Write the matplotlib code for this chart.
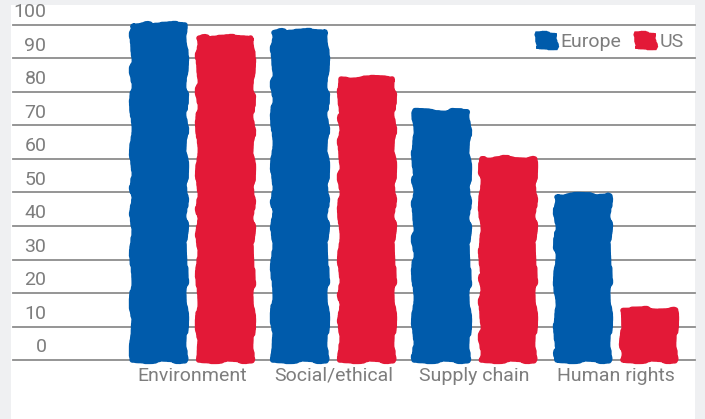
import matplotlib
matplotlib.use("Agg")
import matplotlib.pyplot as plt
from matplotlib.patches import Rectangle
import numpy as np

categories = ["Environment", "Social/ethical", "Supply chain", "Human rights"]
europe = [100, 98, 74, 49]
us = [96, 84, 60, 15]
yticks = [0, 10, 20, 30, 40, 50, 60, 70, 80, 90, 100]

BLUE = "#005bab"
RED = "#e31937"
GREY_TXT = "#7d7d7d"
GRID = "#8c8c8c"

plt.rcParams["font.family"] = ["Roboto", "Liberation Sans", "DejaVu Sans"]

W, H = 705, 419
fig = plt.figure(figsize=(W / 100, H / 100), dpi=100)
fig.patch.set_facecolor("#eff0f2")
fig.add_artist(Rectangle((11 / W, 0), (695 - 11) / W, (H - 5) / H,
                         transform=fig.transFigure, facecolor="white",
                         edgecolor="none", zorder=0))

ax = fig.add_axes([13 / W, (H - 360) / H, (695 - 13) / W, (360 - 25) / H])
ax.set_facecolor("none")
for s in ax.spines.values():
    s.set_visible(False)
ax.set_xticks([])
ax.set_yticks([])
ax.set_xlim(-1.27, 3.56)
ax.set_ylim(0, 100)

for v in yticks:
    ax.axhline(v, color=GRID, lw=1.3, zorder=1, clip_on=False)
    ax.text(0.049, v + 3.8, str(v), transform=ax.get_yaxis_transform(),
            ha="right", va="center", fontsize=14, color=GREY_TXT)

x = np.arange(len(categories))
w = 0.37
off = 0.235
b1 = ax.bar(x - off, europe, w, color=BLUE, edgecolor=BLUE,
            linewidth=4, joinstyle="round", label="Europe", zorder=3, clip_on=False)
b2 = ax.bar(x + off, us, w, color=RED, edgecolor=RED,
            linewidth=4, joinstyle="round", label="US", zorder=3, clip_on=False)
for bar in list(b1) + list(b2):
    bar.set_sketch_params(scale=1.4, length=220, randomness=40)

for xi, name in zip(x, categories):
    ax.text(xi, -2, name, ha="center", va="top", fontsize=14, color=GREY_TXT)

leg = ax.legend(loc="center right", bbox_to_anchor=(0.995, 0.95), ncol=2,
                frameon=False, fontsize=14, handlelength=1.0, handleheight=0.75,
                handletextpad=0.25, columnspacing=0.7, labelcolor=GREY_TXT,
                borderaxespad=0)
for h in leg.legend_handles:
    h.set_linewidth(2)

fig.savefig("out.png", dpi=100, facecolor=fig.get_facecolor())
